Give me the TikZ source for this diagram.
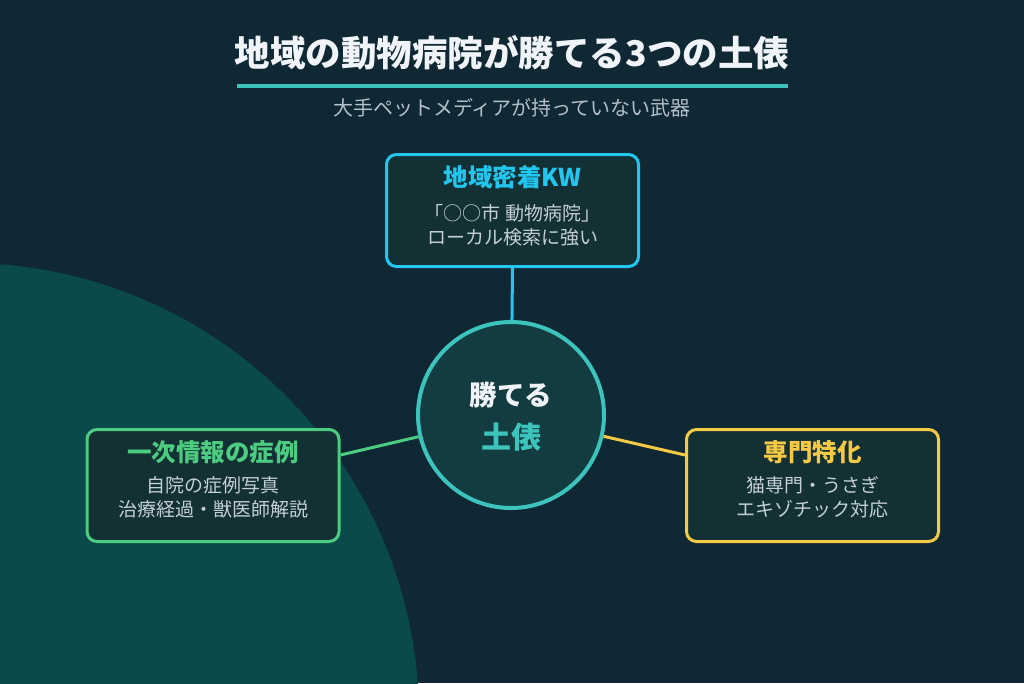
\documentclass[tikz,border=0pt]{standalone}
\usepackage{fontspec}
\setmainfont{Noto Sans CJK JP}
\definecolor{bgc}{HTML}{0F2833}
\definecolor{blobc}{HTML}{0A4A4A}
\definecolor{titlec}{HTML}{F0F4F8}
\definecolor{tealc}{HTML}{3CC4BC}
\definecolor{subc}{HTML}{B4C0CC}
\definecolor{cyanc}{HTML}{22C6EE}
\definecolor{greenc}{HTML}{4CCC80}
\definecolor{yellowc}{HTML}{F6C945}
\definecolor{boxfill}{HTML}{133034}
\definecolor{bodyc}{HTML}{C4CED8}
\definecolor{hubfill}{HTML}{123C40}
\begin{document}
\begin{tikzpicture}[x=1pt,y=-1pt,
  card/.style={draw=#1, fill=boxfill, line width=3pt, rounded corners=10pt,
    minimum width=252pt, minimum height=112pt, inner sep=0pt},
  cardtitle/.style={text=#1, font=\fontsize{24.5}{24.5}\selectfont\bfseries, inner sep=0pt},
  cardbody/.style={text=bodyc, font=\fontsize{19}{19}\selectfont, inner sep=0pt},
  link/.style={draw=#1, line width=3pt}
]
\useasboundingbox (0,0) rectangle (1024,683);
\fill[bgc] (0,0) rectangle (1024,683);
\begin{scope}
  \clip (0,0) rectangle (1024,683);
  \fill[blobc] (-35,717) circle[radius=454];
\end{scope}

% title
\node[text=titlec, font=\fontsize{35.5}{35.5}\selectfont\bfseries, inner sep=0pt] (title) at (512,53) {地域の動物病院が勝てる3つの土俵};
\coordinate (ulA) at (237,86);
\coordinate (ulB) at (788,86);
\draw[tealc, line width=4pt] (ulA) -- (ulB);
\node[text=subc, font=\fontsize{20}{20}\selectfont, inner sep=0pt] (sub) at (512,108) {大手ペットメディアが持っていない武器};

% hub
\node[circle, draw=tealc, fill=hubfill, line width=4pt, minimum size=186pt, inner sep=0pt] (hub) at (511,415) {};
\node[text=titlec, font=\fontsize{27.5}{27.5}\selectfont\bfseries, inner sep=0pt] (hubA) at (511,395) {勝てる};
\node[text=tealc, font=\fontsize{30}{30}\selectfont\bfseries, inner sep=0pt] (hubB) at (511,437) {土俵};

% cards
\node[card=cyanc] (tbox) at (512.5,210.5) {};
\node[cardtitle=cyanc] (tT) at (512.5,177) {地域密着KW};
\node[cardbody] (tL1) at (512.5,213) {「○○市 動物病院」};
\node[cardbody] (tL2) at (512.5,237) {ローカル検索に強い};

\node[card=greenc] (lbox) at (213,485.5) {};
\node[cardtitle=greenc] (lT) at (213,452.5) {一次情報の症例};
\node[cardbody] (lL1) at (213,485.5) {自院の症例写真};
\node[cardbody] (lL2) at (213,509.5) {治療経過・獣医師解説};

\node[card=yellowc] (rbox) at (812.5,485.5) {};
\node[cardtitle=yellowc] (rT) at (812.5,452.5) {専門特化};
\node[cardbody] (rL1) at (812.5,485.5) {猫専門・うさぎ};
\node[cardbody] (rL2) at (812.5,509.5) {エキゾチック対応};

% connectors
\coordinate (lpt) at ([yshift=30.5pt]lbox.east);
\coordinate (rpt) at ([yshift=30.5pt]rbox.west);
\draw[link=cyanc] (tbox.south) -- (hub);
\draw[link=greenc] (lpt) -- (hub);
\draw[link=yellowc] (rpt) -- (hub);
\end{tikzpicture}
\end{document}
